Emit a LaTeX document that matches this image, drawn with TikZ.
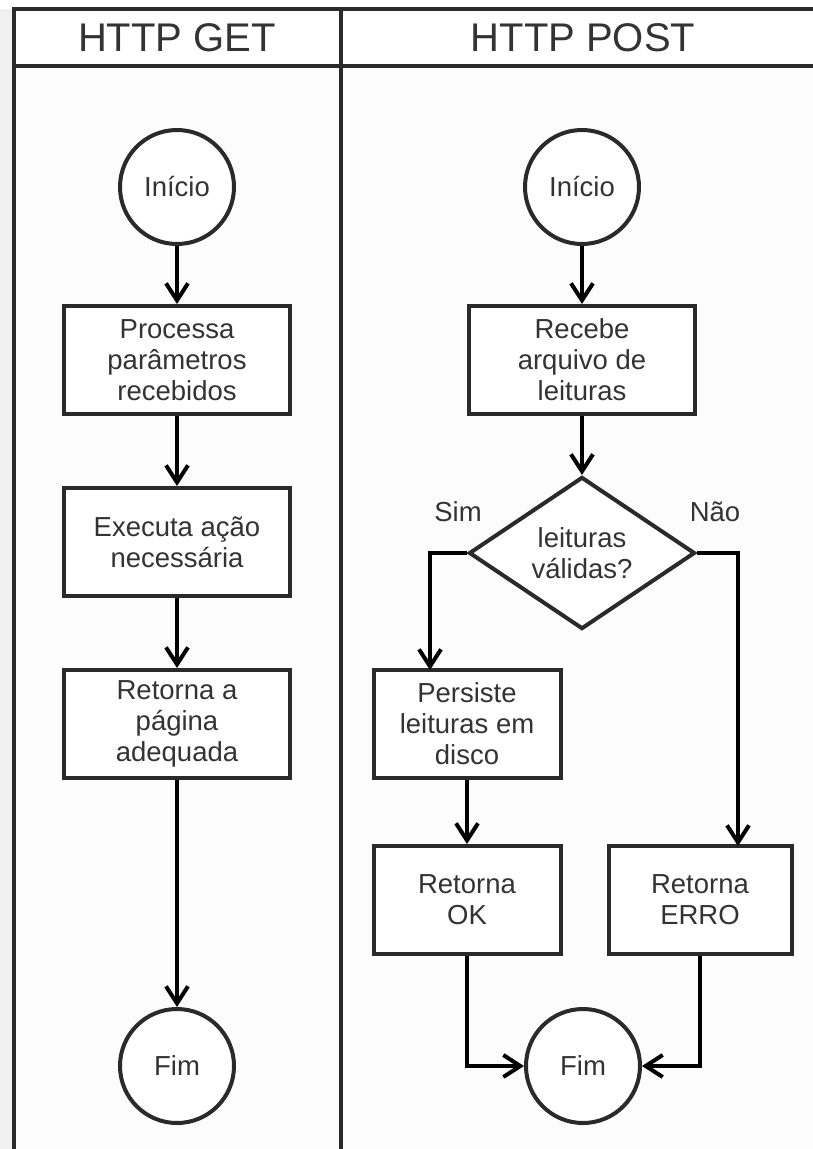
\documentclass[tikz,border=0pt]{standalone}
\usepackage{fontspec}
\setmainfont{Liberation Sans}
\usetikzlibrary{arrows.meta,shapes.geometric}
\definecolor{ink}{HTML}{2A2A2A}
\definecolor{txt}{HTML}{333333}
\begin{document}
\begin{tikzpicture}[x=1pt,y=-1pt,
  lane/.style={draw=ink,line width=4.5pt},
  hdr/.style={text=txt,font=\fontsize{40}{44}\selectfont},
  stepbox/.style={draw=ink,line width=4pt,fill=white,minimum width=226pt,minimum height=108pt,
     align=center,text=txt,font=\fontsize{27.5}{31}\selectfont,inner sep=2pt},
  termc/.style={circle,draw=ink,line width=4pt,fill=white,minimum size=114pt,inner sep=0pt,
     text=txt,font=\fontsize{27.5}{31}\selectfont},
  decis/.style={diamond,draw=ink,line width=4pt,fill=white,minimum width=226pt,minimum height=128pt,
     inner sep=0pt,align=center,text=txt,font=\fontsize{27.5}{31}\selectfont},
  lbl/.style={text=txt,font=\fontsize{27.5}{31}\selectfont},
  arr/.style={draw=black,line width=4pt,-{Straight Barb[length=17pt,width=22pt,line width=4pt]}}
]
\useasboundingbox (0,0) rectangle (813,1149);
\fill[white] (0,0) rectangle (813,1149);
\fill[gray!12] (0,9) rectangle (14,1149);
\fill[gray!2] (14,66) rectangle (813,1149);
% frame
\draw[lane] (14,1149) -- (14,9) -- (813,9);
\draw[lane] (14,66) -- (813,66);
\draw[lane] (341,9) -- (341,1149);
\node[hdr] (hget) at (177,38) {HTTP GET};
\node[hdr] (hpost) at (583,38) {HTTP POST};
% left lane
\node[termc] (iniL) at (177,187) {Início};
\node[stepbox] (proc) at (177,360) {Processa\\parâmetros\\recebidos};
\node[stepbox] (exec) at (177,542) {Executa ação\\necessária};
\node[stepbox] (ret) at (177,724) {Retorna a\\página\\adequada};
\node[termc] (fimL) at (177,1066) {Fim};
\draw[arr] (iniL) -- (proc);
\draw[arr] (proc) -- (exec);
\draw[arr] (exec) -- (ret);
\draw[arr] (ret) -- (fimL);
% right lane
\node[termc] (iniR) at (582,187) {Início};
\node[stepbox] (rec) at (582,360) {Recebe\\arquivo de\\leituras};
\node[decis] (dec) at (582,553) {leituras\\válidas?};
\node[stepbox,minimum width=187pt] (pers) at (467,724) {Persiste\\leituras em\\disco};
\node[stepbox,minimum width=187pt] (ok) at (467,900) {Retorna\\OK};
\node[stepbox,minimum width=183pt] (erro) at (700,900) {Retorna\\ERRO};
\node[termc] (fimR) at (583,1066) {Fim};
\node[lbl] (sim) at (458,512) {Sim};
\node[lbl] (nao) at (715,512) {Não};
\coordinate (simend) at (430,670);
\coordinate (naoend) at (738,846);
\draw[arr] (iniR) -- (rec);
\draw[arr] (rec) -- (dec);
\draw[arr] (dec.west) -| (simend);
\draw[arr] (dec.east) -| (naoend);
\draw[arr] (pers) -- (ok);
\draw[arr] (ok.south) |- (fimR.west);
\draw[arr] (erro.south) |- (fimR.east);
\end{tikzpicture}
\end{document}
